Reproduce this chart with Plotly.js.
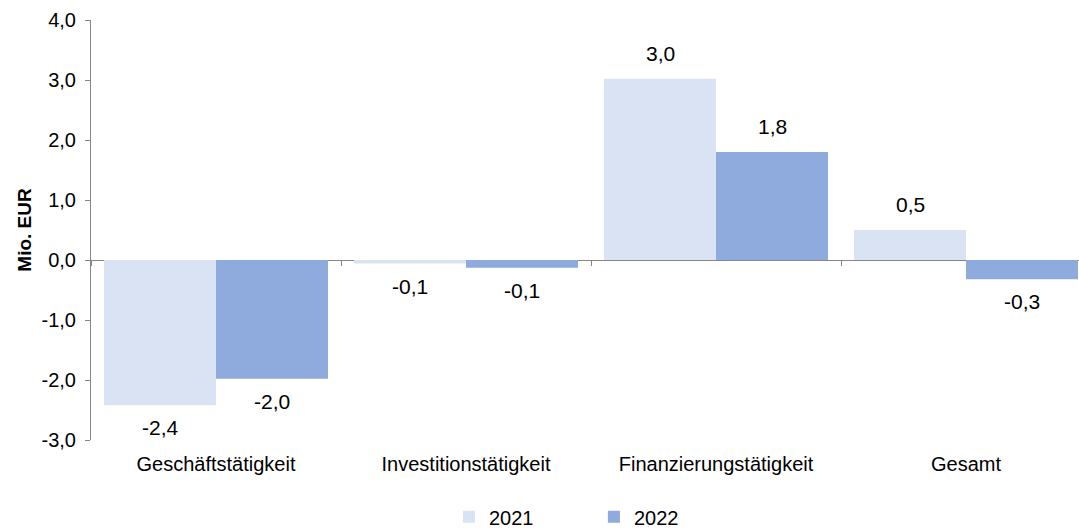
<!DOCTYPE html>
<html>
<head>
<meta charset="utf-8">
<script src="https://cdn.plot.ly/plotly-3.0.1.min.js"></script>
<style>html,body{margin:0;padding:0;background:#fff;}#chart{width:1079px;height:531px;}</style>
</head>
<body>
<div id="chart"></div>
<script>
var categories = ['Geschäftstätigkeit', 'Investitionstätigkeit', 'Finanzierungstätigkeit', 'Gesamt'];
var values2021 = [-2.42, -0.06, 3.02, 0.50];
var values2022 = [-1.98, -0.13, 1.80, -0.32];
var seriesNames = ['2021', '2022'];
var yTickVals = [-3, -2, -1, 0, 1, 2, 3, 4];

var colors = ['#DAE3F3', '#8FAADC'];
var fontFam = '"Liberation Sans", Arial, sans-serif';

function fmt(v) { return v.toFixed(1).replace('.', ','); }

var traces = [
  {type: 'bar', name: seriesNames[0], x: categories, y: values2021,
   marker: {color: colors[0]}, hoverinfo: 'skip'},
  {type: 'bar', name: seriesNames[1], x: categories, y: values2022,
   marker: {color: colors[1]}, hoverinfo: 'skip'},
  {type: 'scatter', mode: 'markers', x: categories, y: categories.map(function(){return null;}),
   xaxis: 'x2', yaxis: 'y', showlegend: false, hoverinfo: 'skip', marker: {opacity: 0}}
];

var groupHalf = 0.224;
var annotations = [];
[values2021, values2022].forEach(function(vals, s) {
  vals.forEach(function(v, i) {
    annotations.push({
      x: i + (s === 0 ? -groupHalf : groupHalf), y: v, xref: 'x', yref: 'y',
      text: fmt(v), showarrow: false,
      yanchor: v >= 0 ? 'bottom' : 'top',
      yshift: v >= 0 ? 12 : -9,
      font: {family: fontFam, size: 21, color: '#000'}
    });
  });
});

var layout = {
  width: 1079, height: 531,
  margin: {l: 91, r: 0, t: 20, b: 91, autoexpand: false},
  paper_bgcolor: '#fff', plot_bgcolor: '#fff',
  separators: ',.',
  font: {family: fontFam, color: '#000'},
  barmode: 'group', bargap: 0.104, bargroupgap: 0,
  showlegend: true,
  legend: {orientation: 'h', x: 0.509, xanchor: 'center', y: -0.183, yanchor: 'middle',
           font: {family: fontFam, size: 20, color: '#000'}, entrywidth: 100, traceorder: 'normal'},
  xaxis: {type: 'category', range: [-0.5, 3.452], showline: false, ticks: '', showgrid: false,
          zeroline: false, tickfont: {family: fontFam, size: 20, color: '#000'}, ticklabelstandoff: 10,
          fixedrange: true},
  xaxis2: {type: 'category', overlaying: 'x', anchor: 'free', position: 3/7, range: [-0.5, 3.452],
           showline: false, ticks: 'outside', ticklen: 5, tickcolor: '#868686', tickwidth: 1,
           tickson: 'boundaries', showticklabels: false, showgrid: false, zeroline: false},
  yaxis: {range: [-3, 4], tickvals: yTickVals, ticktext: yTickVals.map(fmt), showline: true, linecolor: '#868686',
          linewidth: 1, ticks: 'outside', ticklen: 5, tickcolor: '#868686', showgrid: false,
          zeroline: true, zerolinecolor: '#868686', zerolinewidth: 1,
          tickfont: {family: fontFam, size: 20, color: '#000'}, ticklabelstandoff: 5,
          title: {text: '<b>Mio. EUR</b>', font: {family: fontFam, size: 19, color: '#000'}, standoff: 4}},
  annotations: annotations
};

Plotly.newPlot('chart', traces, layout, {displayModeBar: false, staticPlot: true});
</script>
</body>
</html>
